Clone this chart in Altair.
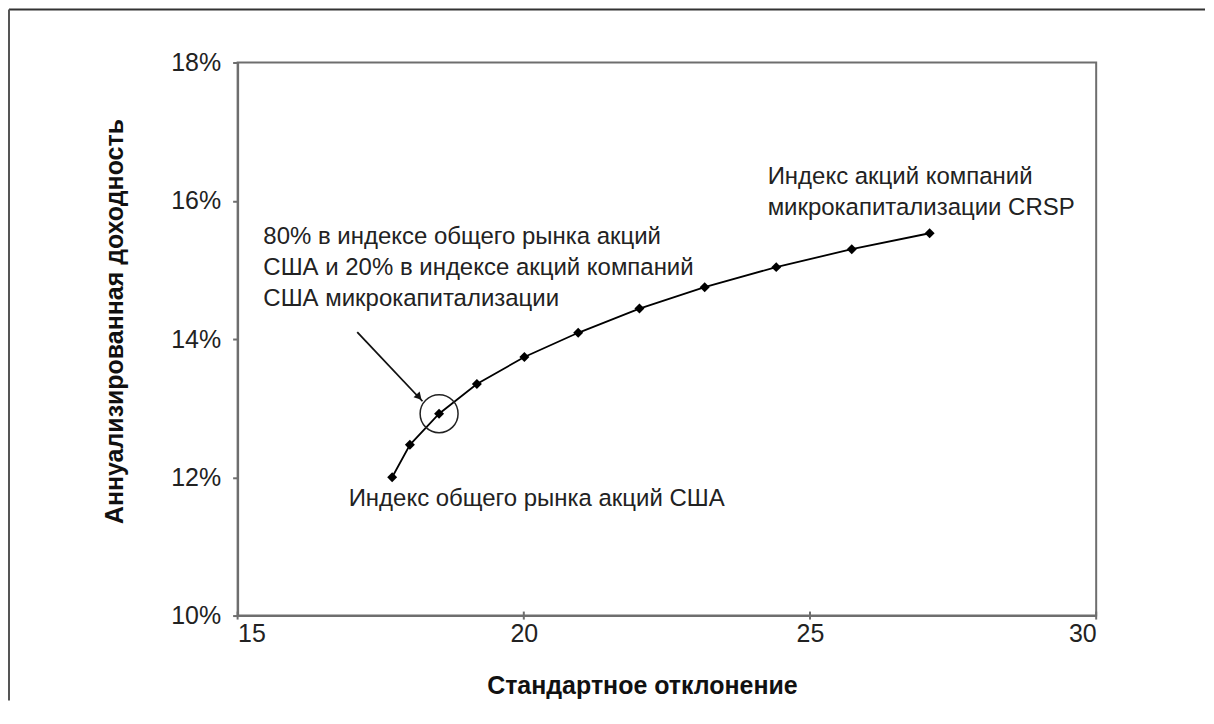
import altair as alt
import pandas as pd

# ---- data ----
std_dev = [17.70, 18.01, 18.52, 19.18, 20.01, 20.95, 22.02, 23.16, 24.41, 25.73, 27.09]
ann_return = [12.00, 12.47, 12.92, 13.35, 13.74, 14.09, 14.44, 14.75, 15.04, 15.30, 15.53]

x_ticks = [15, 20, 25, 30]
y_ticks = [10, 12, 14, 16, 18]

highlight_x = [18.52]
highlight_y = [12.92]

arrow_x = [17.09]
arrow_y = [14.10]
arrow_x2 = [18.23]
arrow_y2 = [13.10]
arrowhead_x = [18.17]
arrowhead_y = [13.16]

label_texts = [
    "80% в индексе общего рынка акций\nСША и 20% в индексе акций компаний\nСША микрокапитализации",
    "Индекс общего рынка акций США",
    "Индекс акций компаний\nмикрокапитализации CRSP",
]
label_x = [15.45, 16.94, 24.26]
label_y = [15.37, 11.59, 16.24]

x_title = "Стандартное отклонение"
y_title = "Аннуализированная доходность"

# ---- layout ----
W, H = 860, 554
FONT = "Liberation Sans"
AXIS_GRAY = "#6e6e6e"

df = pd.DataFrame({"sd": std_dev, "ret": ann_return})
hl = pd.DataFrame({"sd": highlight_x, "ret": highlight_y})
arr = pd.DataFrame({"sd": arrow_x, "ret": arrow_y, "sd2": arrow_x2, "ret2": arrow_y2})
head = pd.DataFrame({"sd": arrowhead_x, "ret": arrowhead_y})
lab = pd.DataFrame({"sd": label_x, "ret": label_y, "t": label_texts})
xt = pd.DataFrame({"sd": x_ticks})
one = pd.DataFrame({"k": [0]})

xscale = alt.Scale(domain=[15, 30], nice=False, zero=False)
yscale = alt.Scale(domain=[10, 18], nice=False, zero=False)

x_enc = alt.X(
    "sd:Q",
    scale=xscale,
    axis=alt.Axis(
        values=x_ticks,
        format="d",
        title=x_title,
        grid=False,
        ticks=False,
        tickSize=0,
        labelPadding=6,
        labelFont=FONT,
        labelFontSize=25,
        labelColor="#222222",
        domainColor=AXIS_GRAY,
        domainWidth=2,
        titleFont=FONT,
        titleFontSize=25,
        titleFontWeight="bold",
        titleColor="#111111",
        titleX=405,
        titleY=78,
        titleBaseline="alphabetic",
    ),
)
y_enc = alt.Y(
    "ret:Q",
    scale=yscale,
    axis=alt.Axis(
        values=y_ticks,
        labelExpr="datum.value + '%'",
        title=y_title,
        grid=False,
        tickSize=5,
        tickWidth=2,
        tickColor=AXIS_GRAY,
        labelPadding=12,
        labelFont=FONT,
        labelFontSize=25,
        labelColor="#222222",
        domainColor=AXIS_GRAY,
        domainWidth=2,
        titleFont=FONT,
        titleFontSize=25,
        titleFontWeight="bold",
        titleColor="#111111",
        titleAngle=-90,
        titleX=-123,
        titleY=259,
        titleAlign="center",
        titleBaseline="middle",
    ),
)

line = alt.Chart(df).mark_line(color="black", strokeWidth=1.8).encode(x=x_enc, y=y_enc)
pts = alt.Chart(df).mark_point(shape="diamond", filled=True, size=100, color="black", opacity=1).encode(
    x="sd:Q", y="ret:Q"
)
circle = alt.Chart(hl).mark_point(
    shape="circle", filled=False, size=1444, stroke="#222222", strokeWidth=1.5, opacity=1
).encode(x="sd:Q", y="ret:Q")
arrow = alt.Chart(arr).mark_rule(color="#111111", strokeWidth=1.8).encode(
    x="sd:Q", y="ret:Q", x2="sd2:Q", y2="ret2:Q"
)
arrowhead = alt.Chart(head).mark_point(
    shape="triangle-up", filled=True, size=70, color="#111111", angle=137, opacity=1
).encode(x="sd:Q", y="ret:Q")
labels = alt.Chart(lab).mark_text(
    align="left", baseline="alphabetic", font=FONT, fontSize=24, color="#222222",
    lineBreak="\n", lineHeight=31
).encode(x="sd:Q", y="ret:Q", text="t:N")
xticks = alt.Chart(xt).mark_rule(color=AXIS_GRAY, strokeWidth=2).encode(
    x="sd:Q", y=alt.value(H - 4), y2=alt.value(H + 4)
)
frame_top = alt.Chart(one).mark_rule(color="#333333", strokeWidth=2).encode(
    x=alt.value(-229), x2=alt.value(969), y=alt.value(-53)
)
frame_left = alt.Chart(one).mark_rule(color="#555555", strokeWidth=2).encode(
    x=alt.value(-229), y=alt.value(-53), y2=alt.value(639)
)

chart = (
    alt.layer(frame_top, frame_left, line, pts, circle, arrow, arrowhead, labels, xticks)
    .properties(width=W, height=H, padding=0, background="white")
    .configure_view(stroke=AXIS_GRAY, strokeWidth=2)
)

chart.save("out.html", embed_options={"renderer": "svg", "actions": False})
